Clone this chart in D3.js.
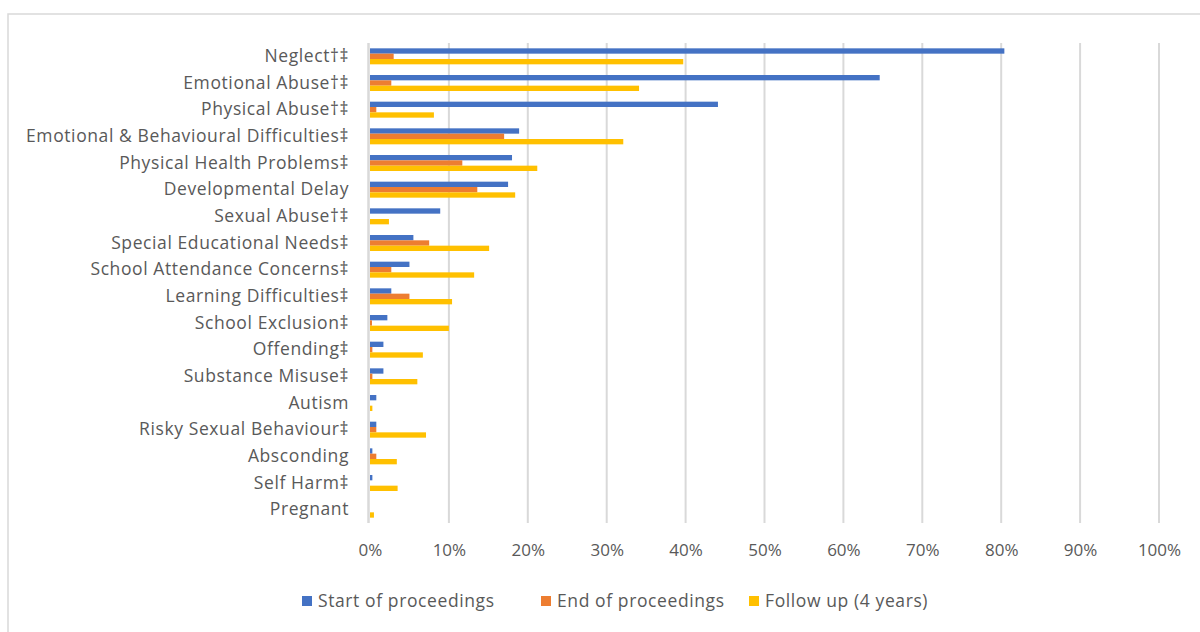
<!DOCTYPE html>
<html>
<head>
<meta charset="utf-8">
<script src="https://cdn.jsdelivr.net/npm/d3@7"></script>
<style>
  html, body { margin: 0; padding: 0; background: #fff; }
  svg { display: block; }
  text { font-family: "Open Sans", "Lato", sans-serif; fill: #595959; }
</style>
</head>
<body>
<svg id="chart" width="1200" height="632"></svg>
<script>
const categories = [
  "Neglect†‡", "Emotional Abuse†‡", "Physical Abuse†‡",
  "Emotional & Behavioural Difficulties‡", "Physical Health Problems‡",
  "Developmental Delay", "Sexual Abuse†‡", "Special Educational Needs‡",
  "School Attendance Concerns‡", "Learning Difficulties‡", "School Exclusion‡",
  "Offending‡", "Substance Misuse‡", "Autism", "Risky Sexual Behaviour‡",
  "Absconding", "Self Harm‡", "Pregnant"
];
const seriesNames = ["Start of proceedings", "End of proceedings", "Follow up (4 years)"];
const startValues  = [80.4, 64.6, 44.1, 18.9, 18.0, 17.5, 8.9, 5.5, 5.0, 2.7, 2.2, 1.7, 1.7, 0.8, 0.8, 0.3, 0.3, 0];
const endValues    = [3.0, 2.7, 0.8, 17.0, 11.7, 13.6, 0, 7.5, 2.7, 5.0, 0.25, 0.3, 0.3, 0, 0.8, 0.8, 0, 0];
const followValues = [39.7, 34.1, 8.1, 32.1, 21.2, 18.4, 2.4, 15.1, 13.2, 10.4, 10.0, 6.7, 6.0, 0.3, 7.1, 3.4, 3.5, 0.5];
const tickValues = [0, 10, 20, 30, 40, 50, 60, 70, 80, 90, 100];
const colors = ["#4472C4", "#ED7D31", "#FFC000"];

const series = [startValues, endValues, followValues];
const svg = d3.select("#chart");
const FONT = "'Open Sans', Lato, sans-serif";
const FS = 17.5;
const LS = "0.6px";

// outer frame
svg.append("rect").attr("x", 8).attr("y", 14).attr("width", 1200).attr("height", 640)
  .attr("fill", "none").attr("stroke", "#D9D9D9").attr("stroke-width", 1.5);

const x = d3.scaleLinear().domain([0, 100]).range([370, 1159]);
const y = d3.scaleBand().domain(categories).range([43, 523]).paddingInner(0.4).paddingOuter(0.2);
const ySub = d3.scaleBand().domain([0, 1, 2]).range([0, y.bandwidth()]);

// gridlines
svg.append("g").selectAll("line").data(tickValues.slice(1)).join("line")
  .attr("x1", d => x(d)).attr("x2", d => x(d))
  .attr("y1", 43).attr("y2", 523)
  .attr("stroke", "#D9D9D9").attr("stroke-width", 2);

// bars
const groups = svg.append("g").selectAll("g").data(categories).join("g")
  .attr("transform", d => `translate(0,${y(d)})`);
groups.selectAll("rect").data((d, i) => series.map((s, k) => ({k, v: s[i]}))).join("rect")
  .attr("x", x(0))
  .attr("y", d => ySub(d.k))
  .attr("height", ySub.bandwidth())
  .attr("width", d => x(d.v) - x(0))
  .attr("fill", d => colors[d.k]);

// vertical axis line
svg.append("line").attr("x1", x(0) - 1.5).attr("x2", x(0) - 1.5).attr("y1", 43).attr("y2", 523)
  .attr("stroke", "#D9D9D9").attr("stroke-width", 2.5);

// category labels
const yAxis = d3.axisLeft(y).tickSize(0).tickPadding(21);
const yg = svg.append("g").attr("transform", `translate(${x(0)},0)`).call(yAxis);
yg.select(".domain").remove();
yg.selectAll("text").attr("font-size", FS).attr("fill", "#595959")
  .style("font-family", FONT).style("letter-spacing", LS);

// x tick labels
const xAxis = d3.axisBottom(x).tickValues(tickValues).tickFormat(d => d + "%").tickSize(0).tickPadding(21);
const xg = svg.append("g").attr("transform", `translate(0,523)`).call(xAxis);
xg.select(".domain").remove();
xg.selectAll("text").attr("font-size", 17).attr("fill", "#595959").style("font-family", FONT);

// legend
const legendX = [302, 541, 749];
const lg = svg.append("g").selectAll("g").data(seriesNames).join("g")
  .attr("transform", (d, i) => `translate(${legendX[i]},601)`);
lg.append("rect").attr("x", 0).attr("y", -5).attr("width", 10).attr("height", 10).attr("fill", (d, i) => colors[i]);
lg.append("text").attr("x", 16).attr("y", 0).attr("dy", "0.35em").attr("font-size", FS)
  .style("font-family", FONT).style("letter-spacing", LS).text(d => d);
</script>
</body>
</html>
